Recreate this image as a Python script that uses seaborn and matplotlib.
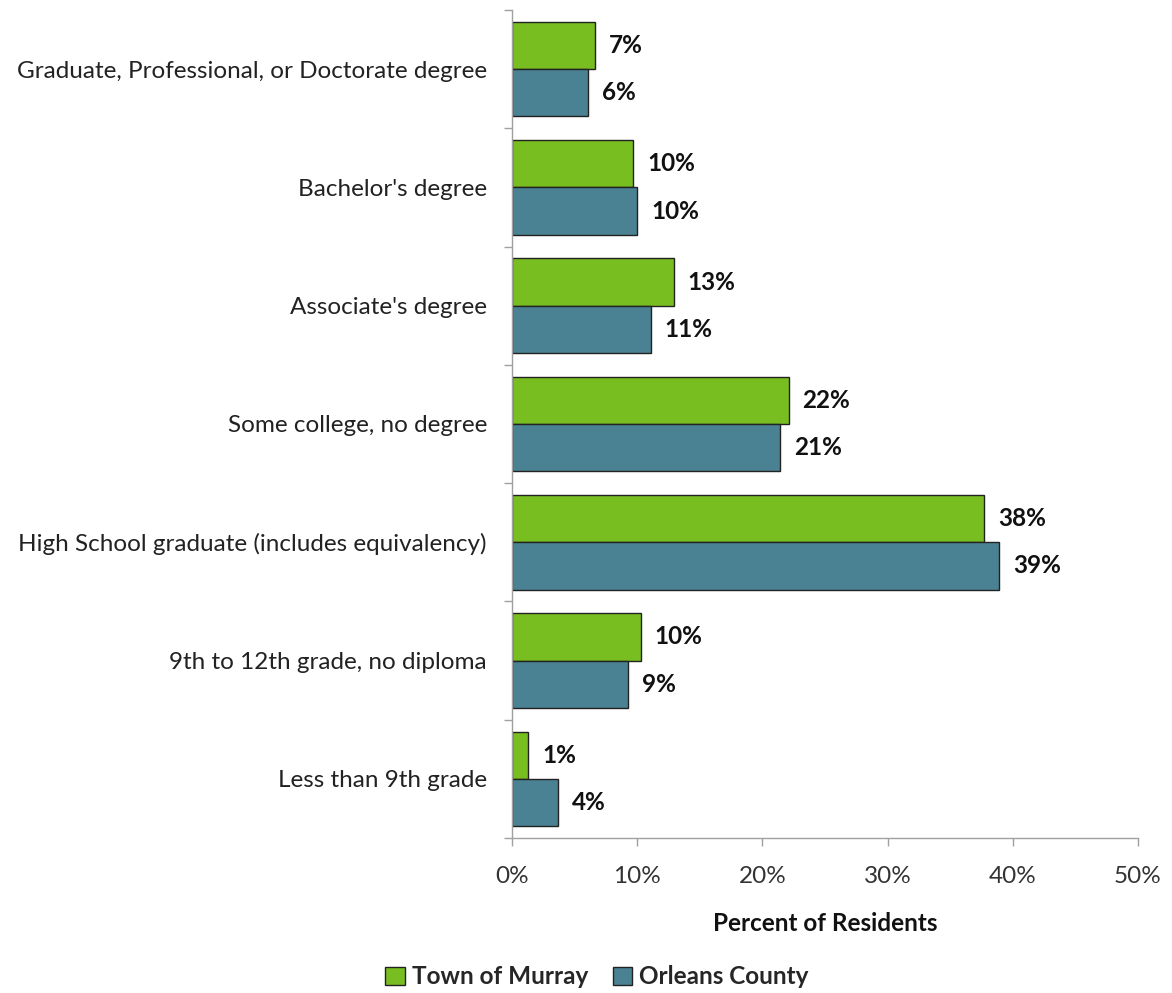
import matplotlib
matplotlib.use("Agg")
import matplotlib.pyplot as plt
import seaborn as sns
import pandas as pd
from matplotlib.ticker import FixedLocator, FuncFormatter
from matplotlib.patches import Patch

categories = [
    "Graduate, Professional, or Doctorate degree",
    "Bachelor's degree",
    "Associate's degree",
    "Some college, no degree",
    "High School graduate (includes equivalency)",
    "9th to 12th grade, no diploma",
    "Less than 9th grade",
]
series_names = ["Town of Murray", "Orleans County"]
murray = [6.6, 9.7, 12.9, 22.1, 37.7, 10.3, 1.3]
orleans = [6.1, 10.0, 11.1, 21.4, 38.9, 9.3, 3.7]
x_ticks = [0, 10, 20, 30, 40, 50]

colors = {"Town of Murray": "#78BE20", "Orleans County": "#4A8293"}

df = pd.DataFrame({
    "Education": categories * 2,
    "Area": [series_names[0]] * len(categories) + [series_names[1]] * len(categories),
    "Percent": murray + orleans,
})

sns.set_style("white")
plt.rcParams["font.family"] = ["Lato", "DejaVu Sans"]

FS = 17.5

fig = plt.figure(figsize=(11.72, 9.93), dpi=100)
ax = fig.add_axes([512 / 1172, 1 - 838 / 993, (1138 - 512) / 1172, (838 - 10) / 993])

sns.barplot(data=df, y="Education", x="Percent", hue="Area", order=categories,
            hue_order=series_names, palette=colors, saturation=1, orient="h", width=0.8,
            edgecolor="#222222", linewidth=1.0, legend=False, ax=ax)

# value labels
for container, name in zip(ax.containers, series_names):
    vals = murray if name == series_names[0] else orleans
    ax.bar_label(container, labels=[f"{v:.0f}%" for v in vals], padding=10,
                 fontsize=FS, fontweight="bold", color="#111111")

ax.set_xlim(0, 50)
ax.set_ylim(len(categories) - 0.5, -0.5)
ax.xaxis.set_major_locator(FixedLocator(x_ticks))
ax.xaxis.set_major_formatter(FuncFormatter(lambda v, p: f"{v:.0f}%"))

# category boundaries as minor ticks on the y axis
ax.yaxis.set_minor_locator(FixedLocator([i - 0.5 for i in range(len(categories) + 1)]))
ax.tick_params(axis="y", which="both", left=True)
ax.tick_params(axis="x", which="both", bottom=True)
ax.tick_params(axis="y", which="major", length=0, labelsize=FS, labelcolor="#222222", pad=18)
ax.tick_params(axis="y", which="minor", length=6, width=1, color="#A0A0A0", direction="out")
ax.tick_params(axis="x", which="major", length=6, width=1, color="#A0A0A0", direction="out",
               labelsize=FS, labelcolor="#333333", pad=14)

for side in ["top", "right"]:
    ax.spines[side].set_visible(False)
for side in ["left", "bottom"]:
    ax.spines[side].set_color("#A0A0A0")
    ax.spines[side].set_linewidth(1)

ax.set_ylabel("")
ax.set_xlabel("Percent of Residents", fontsize=FS, fontweight="bold", color="#111111", labelpad=18)

handles = [Patch(facecolor=colors[n], edgecolor="#222222", label=n) for n in series_names]
fig.legend(handles=handles, loc="center", bbox_to_anchor=(597 / 1172, 1 - 977 / 993), ncol=2,
           frameon=False, prop={"size": FS, "weight": "bold"}, handlelength=0.8,
           handleheight=0.8, handletextpad=0.3, columnspacing=1.0)

fig.savefig("out.png", dpi=100, facecolor="white")
